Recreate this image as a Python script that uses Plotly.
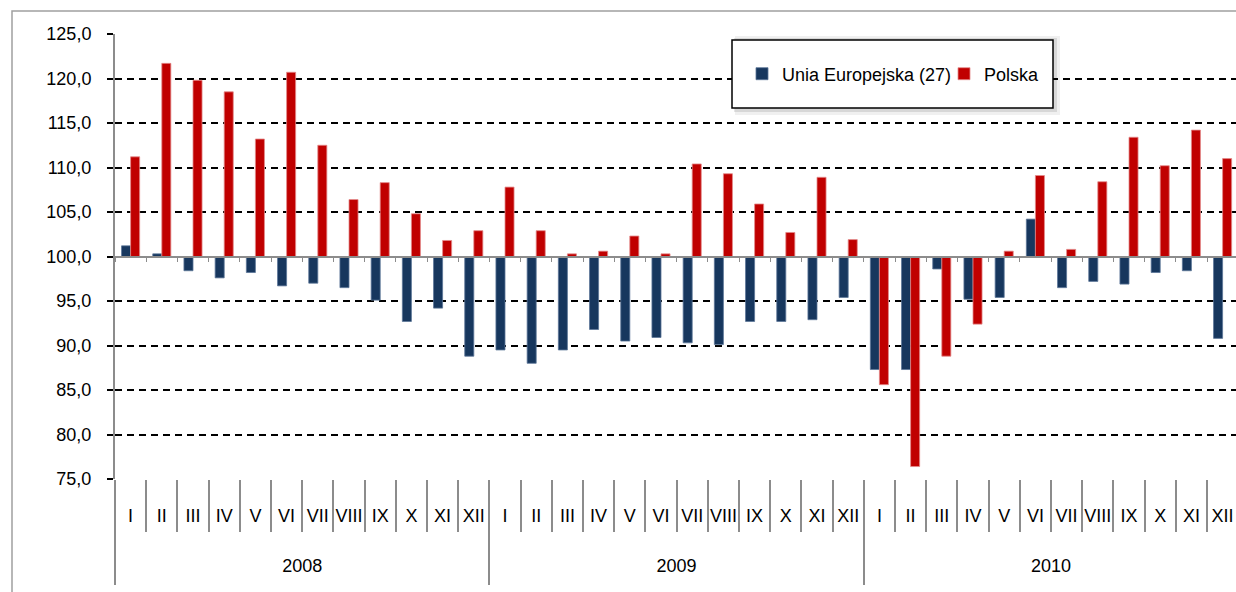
import plotly.graph_objects as go

months = ["I", "II", "III", "IV", "V", "VI", "VII", "VIII", "IX", "X", "XI", "XII"]
years = ["2008", "2009", "2010"]

eu_values = [
    101.2, 100.3, 98.4, 97.6, 98.2, 96.7, 97.0, 96.5, 95.1, 92.7, 94.2, 88.8,
    89.5, 88.0, 89.5, 91.8, 90.5, 90.9, 90.3, 90.1, 92.7, 92.7, 92.9, 95.4,
    87.3, 87.3, 98.6, 95.2, 95.4, 104.2, 96.5, 97.2, 96.9, 98.2, 98.4, 90.8,
]
pl_values = [
    111.2, 121.7, 119.8, 118.5, 113.2, 120.7, 112.5, 106.4, 108.3, 104.8, 101.8, 102.9,
    107.8, 102.9, 100.3, 100.6, 102.3, 100.3, 110.4, 109.3, 105.9, 102.7, 108.9, 101.9,
    85.6, 76.4, 88.8, 92.4, 100.6, 109.1, 100.8, 108.4, 113.4, 110.2, 114.2, 111.0,
]
y_ticks = [75, 80, 85, 90, 95, 100, 105, 110, 115, 120, 125]
base_value = 100

x_years = [y for y in years for _ in months]
x_months = [m for _ in years for m in months]
n = len(x_months)
nm = len(months)

# the page body margin is removed (see post_script), so the figure fills the window
SW, SH = 1236, 592                      # screen / figure size
PL_, PR_, PT_, PB_ = 115, 1236, 34, 479  # plot area on screen (right side cropped)
CAT_W = 31.2                            # px per month category
FW, FH = SW, SH
ML, MT = PL_, PT_
MR = FW - PR_
MB = FH - PB_
PW, PH = PR_ - PL_, PB_ - PT_
X_RANGE = [-0.5, -0.5 + PW / CAT_W]


def px_x(p):
    return (p - PL_) / PW


def px_y(p):
    return (PB_ - p) / PH


FONT = "Liberation Sans, Arial, sans-serif"
BLUE = "#17375E"
RED = "#C00000"
GRAY = "#8c8c8c"

fig = go.Figure()
fig.add_trace(go.Bar(
    x=[x_years, x_months], y=[v - base_value for v in eu_values], base=base_value,
    name="Unia Europejska (27)", marker=dict(color=BLUE, line=dict(color="#5b7597", width=0.8)),
))
fig.add_trace(go.Bar(
    x=[x_years, x_months], y=[v - base_value for v in pl_values], base=base_value,
    name="Polska", marker=dict(color=RED, line=dict(color="#e38a8a", width=0.8)),
))
# helper (invisible) traces so that the overlay axes get drawn
for ax in ["x2", "x3", "x4", "x5", "x6"]:
    fig.add_trace(go.Scatter(x=[-0.5, n - 0.5], y=[None, None], xaxis=ax, yaxis="y",
                             showlegend=False, hoverinfo="skip", mode="lines"))

month_bounds = [i - 0.5 for i in range(n + 1)]
year_bounds = [i * nm - 0.5 for i in range(len(years) + 1)]
month_centers = list(range(n))
year_centers = [i * nm + (nm - 1) / 2 for i in range(len(years))]

common = dict(overlaying="x", anchor="free", type="linear", automargin=False,
              range=X_RANGE, showgrid=False, zeroline=False)

fig.update_layout(
    width=FW, height=FH,
    margin=dict(l=ML, r=MR, t=MT, b=MB, autoexpand=False),
    paper_bgcolor="white", plot_bgcolor="white",
    separators=", ",
    font=dict(family=FONT, size=18, color="black"),
    barmode="group", bargap=0.42, bargroupgap=0,
    showlegend=True,
    legend=dict(
        orientation="h", x=px_x(742), y=px_y(74), xanchor="left", yanchor="middle",
        bgcolor="rgba(0,0,0,0)", borderwidth=0, font=dict(size=18, family=FONT),
        itemclick=False, entrywidth=157, entrywidthmode="pixels",
    ),
    xaxis=dict(
        type="multicategory", range=X_RANGE, automargin=False,
        showgrid=False, showline=False, zeroline=False,
        showticklabels=False, ticks="", showdividers=False,
    ),
    # line at 100 with small ticks
    xaxis2=dict(
        **common, position=0.5,
        showline=True, linecolor=GRAY, linewidth=2,
        ticks="outside", ticklen=4, tickcolor=GRAY, tickwidth=1.3,
        tickvals=month_bounds, showticklabels=False,
    ),
    # month separators
    xaxis3=dict(
        **common, position=0, showline=False,
        ticks="outside", ticklen=52, tickcolor=GRAY, tickwidth=1.5,
        tickvals=month_bounds, showticklabels=False,
    ),
    # month labels
    xaxis4=dict(
        **common, position=0, showline=False, ticks="",
        tickvals=month_centers, ticktext=x_months, ticklabelstandoff=24,
        tickfont=dict(size=18, family=FONT, color="black"),
    ),
    # year labels
    xaxis5=dict(
        **common, position=0, showline=False, ticks="",
        tickvals=year_centers, ticktext=years, ticklabelstandoff=74,
        tickfont=dict(size=18, family=FONT, color="black"),
    ),
    # year dividers
    xaxis6=dict(
        **common, position=0, showline=False,
        ticks="outside", ticklen=105, tickcolor=GRAY, tickwidth=1.5,
        tickvals=year_bounds, showticklabels=False,
    ),
    yaxis=dict(
        range=[75, 125], tickvals=y_ticks, tickformat=".1f", automargin=False,
        showgrid=True, gridcolor="black", gridwidth=1.5, griddash="7px,5px",
        showline=True, linecolor=GRAY, linewidth=2, zeroline=False,
        ticks="outside", ticklen=6, tickcolor="black", tickwidth=1.5,
        ticklabelstandoff=12,
        tickfont=dict(size=18, family=FONT, color="black"),
    ),
)

shapes = [
    # outer chart frame
    dict(type="rect", xref="paper", yref="paper",
         x0=px_x(12), x1=px_x(1260), y0=px_y(620), y1=px_y(11),
         line=dict(color="#a0a0a0", width=1.5), fillcolor="rgba(0,0,0,0)", layer="below"),
    # legend shadow
    dict(type="rect", xref="paper", yref="paper",
         x0=px_x(735), x1=px_x(1060), y0=px_y(115), y1=px_y(36),
         line=dict(width=0), fillcolor="rgba(0,0,0,0.06)", layer="above"),
    dict(type="rect", xref="paper", yref="paper",
         x0=px_x(734), x1=px_x(1057), y0=px_y(112), y1=px_y(38),
         line=dict(width=0), fillcolor="rgba(0,0,0,0.10)", layer="above"),
    # legend box
    dict(type="rect", xref="paper", yref="paper",
         x0=px_x(732), x1=px_x(1053), y0=px_y(108), y1=px_y(40),
         line=dict(color="black", width=1.5), fillcolor="white", layer="above"),
]
fig.update_layout(shapes=shapes)

post = ("document.body.style.margin='0';"
        "document.body.style.overflow='hidden';"
        "document.documentElement.style.overflow='hidden';")
fig.write_html("out.html", post_script=post, config={"displayModeBar": False})
